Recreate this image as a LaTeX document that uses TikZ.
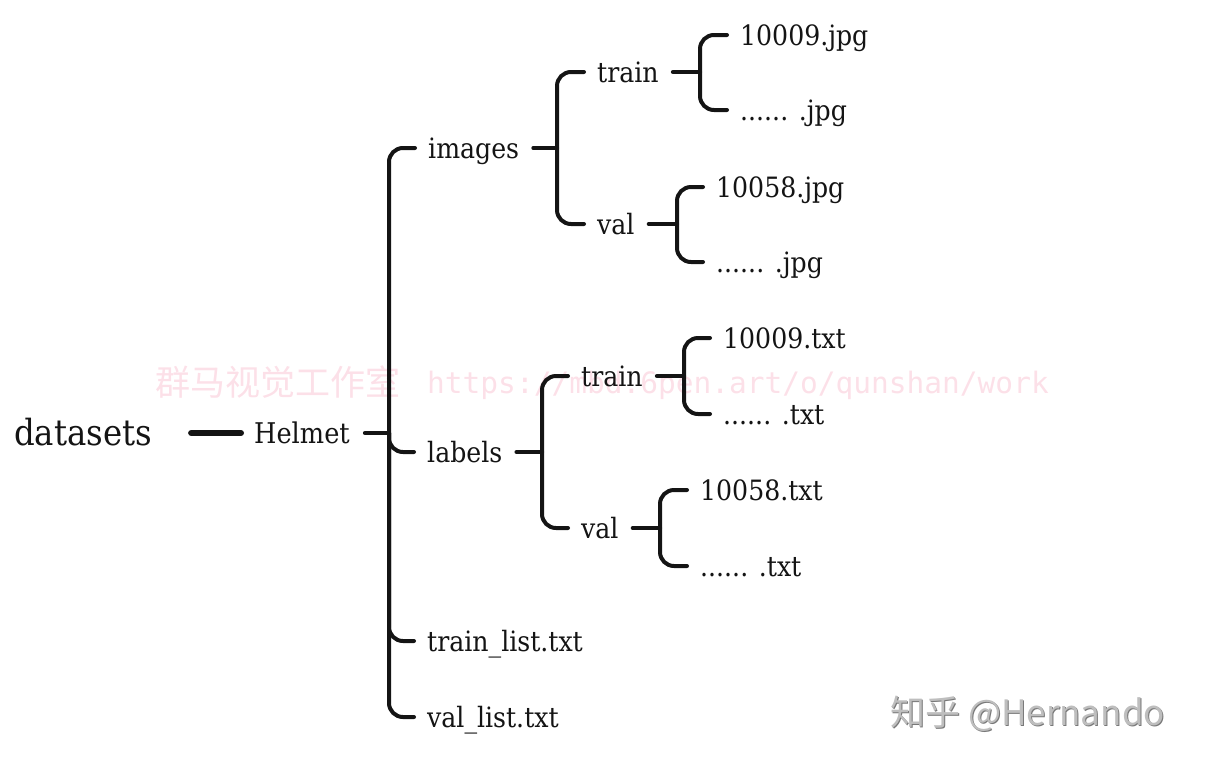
\documentclass[tikz,border=0pt]{standalone}
\usepackage{fontspec}
\setmainfont{DejaVu Serif Condensed}
\newfontfamily\cjk{Noto Sans CJK SC}
\newfontfamily\wmmono{DejaVu Sans Mono}
\usetikzlibrary{calc}
\definecolor{wmpink}{RGB}{252,224,232}
\definecolor{wmgray}{RGB}{190,190,190}
\definecolor{wmshadow}{RGB}{120,120,120}
\definecolor{ink}{RGB}{20,20,20}
\begin{document}
\begin{tikzpicture}[x=1pt,y=-1pt,
  lbl/.style={anchor=base west, inner sep=0pt, text=ink, font=\fontsize{28}{32}\selectfont},
  conn/.style={draw=ink, line width=4pt, line cap=round, rounded corners=14pt},
  wm/.style={anchor=base west, inner sep=0pt}
  ]
\useasboundingbox (0,0) rectangle (1206,764);
% watermarks
\node[wm, text=wmpink, font=\cjk\fontsize{35}{38}\selectfont] (wmcn) at (155,395) {群马视觉工作室};
\node[wm, text=wmpink, font=\wmmono\fontsize{29.5}{34}\selectfont] (wmurl) at (427,393) {https://mbd.6pen.art/o/qunshan/work};
\node[wm, text=wmshadow, font=\cjk\fontsize{35}{38}\selectfont] (zhs) at (891,726) {知乎 @Hernando};
\node[wm, text=wmgray, font=\cjk\fontsize{35}{38}\selectfont] (zh) at (890,725) {知乎 @Hernando};

% nodes
\node[lbl, font=\fontsize{36}{40}\selectfont] (datasets) at (14,445) {datasets};
\node[lbl, font=\fontsize{28.5}{32}\selectfont] (helmet) at (254,443) {Helmet};
\node[lbl] (images) at (428,158) {images};
\node[lbl] (labels) at (427,462) {labels};
\node[lbl] (trainlist) at (427,651) {train\_list.txt};
\node[lbl] (vallist) at (427,727) {val\_list.txt};
\node[lbl] (imtrain) at (597,82) {train};
\node[lbl] (imval) at (597,234) {val};
\node[lbl] (jpgA) at (740,45) {10009.jpg};
\node[lbl] (jpgB) at (740,120) {...... .jpg};
\node[lbl] (jpgC) at (716,197) {10058.jpg};
\node[lbl] (jpgD) at (716,272) {...... .jpg};
\node[lbl] (lbtrain) at (581,386) {train};
\node[lbl] (lbval) at (581,538) {val};
\node[lbl] (txtA) at (723,348) {10009.txt};
\node[lbl] (txtB) at (723,424) {...... .txt};
\node[lbl] (txtC) at (700,500) {10058.txt};
\node[lbl] (txtD) at (700,576) {...... .txt};

% junctions
\coordinate (jhelmet) at (389,433);
\coordinate (jimages) at (557,148);
\coordinate (jimtrain) at (700,72);
\coordinate (jimval) at (677,224);
\coordinate (jlabels) at (542,452);
\coordinate (jlbtrain) at (684,376);
\coordinate (jlbval) at (660,528);

% datasets -> Helmet
\draw[draw=ink, line width=6pt, line cap=round] ($(datasets.base east)+(39,-12)$) -- ($(helmet.base west)+(-13,-10)$);

% Helmet
\draw[conn] ($(helmet.base east)+(15,-10)$) -- (jhelmet);
\foreach \c in {images,labels,trainlist,vallist}
  \draw[conn] (jhelmet) |- ($(\c.base west)+(-13,-10)$);
% images
\draw[conn] ($(images.base east)+(14,-10)$) -- (jimages);
\foreach \c in {imtrain,imval}
  \draw[conn] (jimages) |- ($(\c.base west)+(-13,-10)$);
\draw[conn] ($(imtrain.base east)+(14,-10)$) -- (jimtrain);
\foreach \c in {jpgA,jpgB}
  \draw[conn] (jimtrain) |- ($(\c.base west)+(-13,-10)$);
\draw[conn] ($(imval.base east)+(14,-10)$) -- (jimval);
\foreach \c in {jpgC,jpgD}
  \draw[conn] (jimval) |- ($(\c.base west)+(-13,-10)$);
% labels
\draw[conn] ($(labels.base east)+(14,-10)$) -- (jlabels);
\foreach \c in {lbtrain,lbval}
  \draw[conn] (jlabels) |- ($(\c.base west)+(-13,-10)$);
\draw[conn] ($(lbtrain.base east)+(14,-10)$) -- (jlbtrain);
\foreach \c in {txtA,txtB}
  \draw[conn] (jlbtrain) |- ($(\c.base west)+(-13,-10)$);
\draw[conn] ($(lbval.base east)+(14,-10)$) -- (jlbval);
\foreach \c in {txtC,txtD}
  \draw[conn] (jlbval) |- ($(\c.base west)+(-13,-10)$);
\end{tikzpicture}
\end{document}
